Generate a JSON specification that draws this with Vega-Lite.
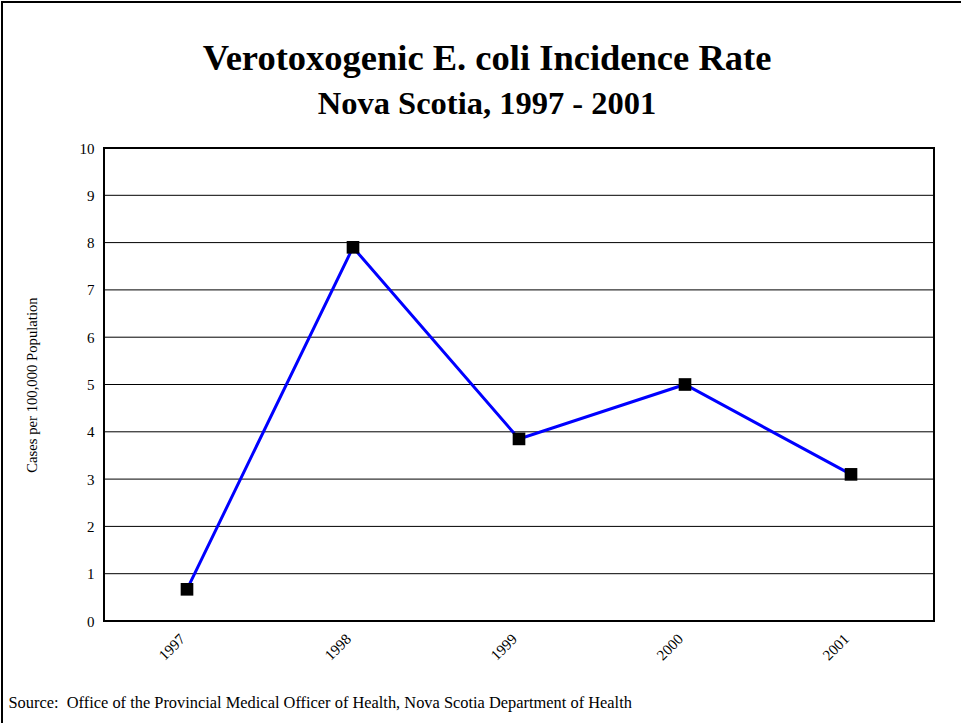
{
  "$schema": "https://vega.github.io/schema/vega-lite/v6.json",
  "autosize": "none",
  "width": 970,
  "height": 730,
  "padding": 2,
  "background": "white",
  "title": {
    "text": "Verotoxogenic E. coli Incidence Rate",
    "subtitle": "Nova Scotia, 1997 - 2001",
    "anchor": "middle",
    "font": "Liberation Serif",
    "fontSize": 36.5,
    "fontWeight": "bold",
    "color": "black",
    "subtitleFont": "Liberation Serif",
    "subtitleFontSize": 32.5,
    "subtitleFontWeight": "bold",
    "subtitleColor": "black",
    "subtitlePadding": 10,
    "offset": -118,
    "dx": 0
  },
  "config": {
    "font": "Liberation Serif",
    "view": {"stroke": "black", "strokeWidth": 2}
  },
  "datasets": {
    "rates": [
      {"year": 1997, "rate": 0.67},
      {"year": 1998, "rate": 7.9},
      {"year": 1999, "rate": 3.85},
      {"year": 2000, "rate": 5.0},
      {"year": 2001, "rate": 3.1}
    ],
    "grid": [
      {"v": 1}, {"v": 2}, {"v": 3}, {"v": 4}, {"v": 5},
      {"v": 6}, {"v": 7}, {"v": 8}, {"v": 9}
    ],
    "frame": [{"x0": 1996.5, "x1": 2001.5, "y0": 0, "y1": 10}]
  },
  "layer": [
    {
      "data": {"name": "grid"},
      "mark": {"type": "rule", "color": "black", "strokeWidth": 1},
      "encoding": {
        "y": {"field": "v", "type": "quantitative", "title": "Cases per 100,000 Population"},
        "x": {"datum": 1996.5, "type": "quantitative", "title": "Source:\u00a0 Office of the Provincial Medical Officer of Health, Nova Scotia Department of Health"},
        "x2": {"datum": 2001.5}
      }
    },
    {
      "data": {"name": "frame"},
      "mark": {"type": "rect", "fill": null, "fillOpacity": 0, "stroke": "black", "strokeWidth": 2},
      "encoding": {
        "x": {"field": "x0", "type": "quantitative", "title": "Source:\u00a0 Office of the Provincial Medical Officer of Health, Nova Scotia Department of Health"},
        "x2": {"field": "x1"},
        "y": {"field": "y0", "type": "quantitative", "title": "Cases per 100,000 Population"},
        "y2": {"field": "y1"}
      }
    },
    {
      "data": {"name": "rates"},
      "mark": {"type": "line", "color": "#0000FF", "strokeWidth": 3},
      "encoding": {
        "x": {
          "field": "year",
          "type": "quantitative",
          "scale": {"domain": [1996.5, 2001.5], "range": [102, 932], "nice": false, "zero": false},
          "axis": {
            "values": [1997, 1998, 1999, 2000, 2001],
            "format": "d",
            "labelAngle": -45,
            "labelAlign": "right",
            "labelBaseline": "middle",
            "labelPadding": 15,
            "labelOffset": -5,
            "labelFontSize": 15,
            "labelFont": "Liberation Serif",
            "labelColor": "black",
            "domain": false,
            "ticks": false,
            "grid": false,
            "offset": -111,
            "title": "Source:\u00a0 Office of the Provincial Medical Officer of Health, Nova Scotia Department of Health",
            "titleX": 6,
            "titleY": 81,
            "titleAlign": "left",
            "titleBaseline": "middle",
            "titleFont": "Liberation Serif",
            "titleFontSize": 16.4,
            "titleFontWeight": "normal",
            "titleColor": "black"
          }
        },
        "y": {
          "field": "rate",
          "type": "quantitative",
          "scale": {"domain": [0, 10], "range": [619, 146], "nice": false, "zero": true},
          "axis": {
            "values": [0, 1, 2, 3, 4, 5, 6, 7, 8, 9, 10],
            "format": "d",
            "labelFontSize": 15,
            "labelFont": "Liberation Serif",
            "labelColor": "black",
            "labelPadding": 10,
            "domain": false,
            "ticks": false,
            "grid": false,
            "offset": -102,
            "title": "Cases per 100,000 Population",
            "titleFont": "Liberation Serif",
            "titleFontSize": 14.7,
            "titleFontWeight": "normal",
            "titleColor": "black",
            "titleAngle": -90,
            "titleX": -72,
            "titleY": 382.5,
            "titleAlign": "center",
            "titleBaseline": "middle"
          }
        }
      }
    },
    {
      "data": {"name": "rates"},
      "mark": {"type": "point", "shape": "square", "filled": true, "color": "black", "size": 160, "opacity": 1},
      "encoding": {
        "x": {"field": "year", "type": "quantitative", "title": "Source:\u00a0 Office of the Provincial Medical Officer of Health, Nova Scotia Department of Health"},
        "y": {"field": "rate", "type": "quantitative", "title": "Cases per 100,000 Population"}
      }
    }
  ]
}
